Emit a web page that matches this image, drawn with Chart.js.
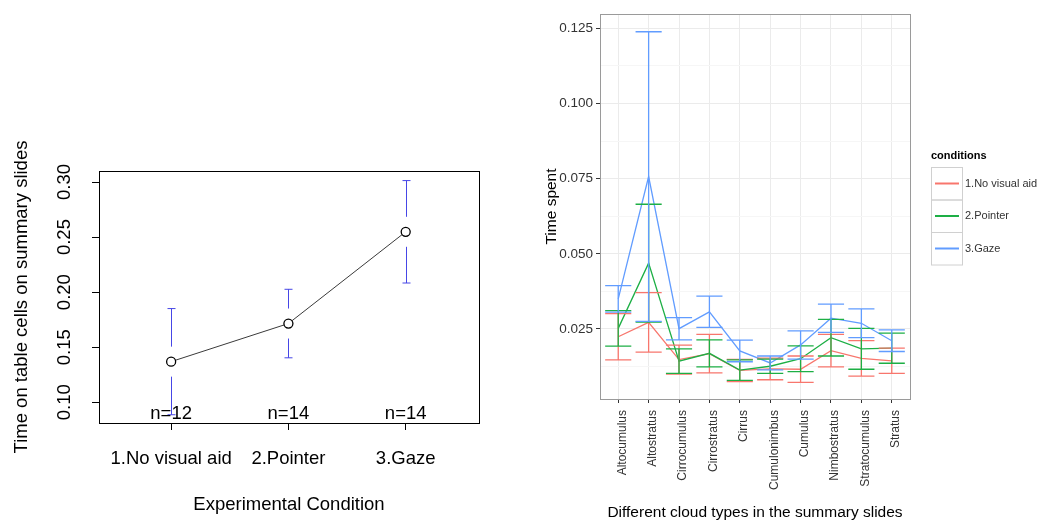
<!DOCTYPE html>
<html>
<head>
<meta charset="utf-8">
<script src="https://cdn.jsdelivr.net/npm/chart.js@4.4.1/dist/chart.umd.min.js"></script>
<style>
  html, body { margin: 0; padding: 0; background: #fff; }
  #wrap { position: relative; width: 1046px; height: 522px; }
  #left { position: absolute; left: 0; top: 0; }
  #right { position: absolute; left: 530px; top: 0; }
</style>
</head>
<body>
<div id="wrap">
  <canvas id="left" width="530" height="522"></canvas>
  <canvas id="right" width="516" height="522"></canvas>
</div>
<script>
// left panel: mean time per condition
const conditions = ['1.No visual aid', '2.Pointer', '3.Gaze'];
const timeMean = [0.1369, 0.1715, 0.2548];
const timeSe = [0.0482, 0.0311, 0.0465];
const nLabels = ['n=12', 'n=14', 'n=14'];
const leftYTicks = [0.10, 0.15, 0.20, 0.25, 0.30];

// right panel: time per cloud type and condition
const cloudTypes = ['Altocumulus', 'Altostratus', 'Cirrocumulus', 'Cirrostratus', 'Cirrus',
  'Cumulonimbus', 'Cumulus', 'Nimbostratus', 'Stratocumulus', 'Stratus'];
const noAidMean = [0.0224, 0.0272, 0.0148, 0.0168, 0.0112, 0.0117, 0.0116, 0.0178, 0.0152, 0.0144];
const noAidSe = [0.0077, 0.0099, 0.0048, 0.0064, 0.0037, 0.0036, 0.0044, 0.0054, 0.0059, 0.0042];
const pointerMean = [0.0252, 0.0469, 0.0143, 0.0169, 0.0113, 0.0126, 0.0151, 0.0221, 0.0184, 0.0186];
const pointerSe = [0.0059, 0.0196, 0.0041, 0.0045, 0.0034, 0.0024, 0.0043, 0.0061, 0.0068, 0.0050];
const gazeMean = [0.0350, 0.0757, 0.0251, 0.0307, 0.0177, 0.0137, 0.0197, 0.0286, 0.0269, 0.0211];
const gazeSe = [0.0044, 0.0482, 0.0037, 0.0052, 0.0036, 0.0023, 0.0047, 0.0047, 0.0048, 0.0036];
const yMajorTicks = [0.025, 0.05, 0.075, 0.1, 0.125];
const yMinorTicks = [0.0125, 0.0375, 0.0625, 0.0875, 0.1125];

const FONT = "'Liberation Sans', Arial, sans-serif";
Chart.defaults.font.family = FONT;

const ggColors = ['#F8766D', '#1DAF45', '#619CFF'];
const seriesMeans = [noAidMean, pointerMean, gazeMean];
const seriesSe = [noAidSe, pointerSe, gazeSe];

// R plotmeans style extras: box, gapped error bars, n= labels
const leftExtras = {
  id: 'leftExtras',
  afterDraw(chart) {
    const { ctx, chartArea: a, scales: { x, y } } = chart;
    ctx.save();
    ctx.strokeStyle = '#000';
    ctx.lineWidth = 1;
    ctx.strokeRect(a.left + 0.5, a.top + 0.5, a.right - a.left, a.bottom - a.top);

    ctx.strokeStyle = '#4646e6';
    timeMean.forEach((m, i) => {
      const px = Math.round(x.getPixelForValue(i + 1)) + 0.5;
      const py = y.getPixelForValue(m);
      const top = y.getPixelForValue(m + timeSe[i]);
      const bot = y.getPixelForValue(m - timeSe[i]);
      ctx.beginPath();
      ctx.moveTo(px, top); ctx.lineTo(px, py - 15);
      ctx.moveTo(px, py + 15); ctx.lineTo(px, bot);
      ctx.moveTo(px - 4, top); ctx.lineTo(px + 4, top);
      ctx.moveTo(px - 4, bot); ctx.lineTo(px + 4, bot);
      ctx.stroke();
    });

    ctx.fillStyle = '#000';
    ctx.font = '18.5px ' + FONT;
    ctx.textAlign = 'center';
    ctx.textBaseline = 'middle';
    nLabels.forEach((t, i) => ctx.fillText(t, x.getPixelForValue(i + 1), a.bottom - 9));
    ctx.restore();
  }
};

new Chart(document.getElementById('left'), {
  type: 'line',
  data: {
    datasets: [{
      data: timeMean.map((v, i) => ({ x: i + 1, y: v })),
      borderColor: '#3a3a3a',
      borderWidth: 1,
      pointRadius: 4.5,
      pointBorderColor: '#000',
      pointBackgroundColor: '#fff',
      pointBorderWidth: 1.3
    }]
  },
  options: {
    responsive: false,
    animation: false,
    layout: { padding: { top: 171, right: 51, left: 0, bottom: 0 } },
    plugins: { legend: { display: false }, tooltip: { enabled: false } },
    scales: {
      x: {
        type: 'linear', min: 0.385, max: 3.625,
        afterBuildTicks: s => { s.ticks = conditions.map((c, i) => ({ value: i + 1 })); },
        afterFit: s => { s.height = 99; },
        ticks: { callback: (v, i) => conditions[i], color: '#000', font: { size: 18.5 }, padding: 18, maxRotation: 0, autoSkip: false },
        grid: { drawOnChartArea: false, tickLength: 7, tickColor: '#000', tickWidth: 1 },
        border: { display: false },
        title: { display: true, text: 'Experimental Condition', color: '#000', font: { size: 18.5 }, padding: { top: 0, bottom: 6 } }
      },
      y: {
        type: 'linear', min: 0.0812, max: 0.31,
        afterBuildTicks: s => { s.ticks = leftYTicks.map(v => ({ value: v })); },
        afterFit: s => { s.width = 99; },
        ticks: { callback: v => v.toFixed(2), color: '#000', font: { size: 18.5 }, minRotation: 90, maxRotation: 90, crossAlign: 'center', padding: 9 },
        grid: { drawOnChartArea: false, tickLength: 7, tickColor: '#000', tickWidth: 1 },
        border: { display: false },
        title: { display: true, text: 'Time on table cells on summary slides', color: '#000', font: { size: 18.5 }, padding: { top: 11, bottom: 0 } }
      }
    }
  },
  plugins: [leftExtras]
});

// ggplot style extras: panel border, error bars, legend
const rightExtras = {
  id: 'rightExtras',
  afterDatasetsDraw(chart) {
    const { ctx, chartArea: a, scales: { x, y } } = chart;
    ctx.save();
    ctx.lineWidth = 1.3;
    seriesMeans.forEach((means, s) => {
      ctx.strokeStyle = ggColors[s];
      means.forEach((m, i) => {
        const px = x.getPixelForValue(i);
        const x0 = x.getPixelForValue(i - 0.43);
        const x1 = x.getPixelForValue(i + 0.43);
        const top = y.getPixelForValue(m + seriesSe[s][i]);
        const bot = y.getPixelForValue(m - seriesSe[s][i]);
        ctx.beginPath();
        ctx.moveTo(px, top); ctx.lineTo(px, bot);
        ctx.moveTo(x0, top); ctx.lineTo(x1, top);
        ctx.moveTo(x0, bot); ctx.lineTo(x1, bot);
        ctx.stroke();
      });
    });
    ctx.strokeStyle = '#9a9a9a';
    ctx.lineWidth = 1;
    ctx.strokeRect(a.left + 0.5, a.top + 0.5, a.right - a.left, a.bottom - a.top);
    ctx.restore();
  },
  afterDraw(chart) {
    const { ctx, chartArea: a } = chart;
    const lx = a.right + 21;
    ctx.save();
    ctx.fillStyle = '#000';
    ctx.font = 'bold 11px ' + FONT;
    ctx.textBaseline = 'middle';
    ctx.fillText('conditions', lx, 155.5);
    ctx.font = '11px ' + FONT;
    conditions.forEach((name, i) => {
      const top = 167 + i * 32.5;
      ctx.strokeStyle = '#d0d0d0';
      ctx.lineWidth = 1;
      ctx.strokeRect(lx + 0.5, top + 0.5, 31, 32.5);
      ctx.strokeStyle = ggColors[i];
      ctx.lineWidth = 2;
      ctx.beginPath();
      ctx.moveTo(lx + 4, top + 16.5); ctx.lineTo(lx + 28, top + 16.5);
      ctx.stroke();
      ctx.fillStyle = '#333';
      ctx.fillText(name, lx + 34, top + 16.5);
    });
    ctx.restore();
  }
};

const isMajor = v => yMajorTicks.includes(v);

new Chart(document.getElementById('right'), {
  type: 'line',
  data: {
    datasets: [2, 1, 0].map(s => ({
      label: conditions[s],
      data: seriesMeans[s].map((v, i) => ({ x: i, y: v })),
      borderColor: ggColors[s],
      borderWidth: 1.3,
      pointRadius: 0,
      tension: 0
    }))
  },
  options: {
    responsive: false,
    animation: false,
    layout: { padding: { top: 14, right: 136, left: 0, bottom: 0 } },
    plugins: { legend: { display: false }, tooltip: { enabled: false } },
    scales: {
      x: {
        type: 'linear', min: -0.6, max: 9.6,
        afterBuildTicks: s => { s.ticks = cloudTypes.map((c, i) => ({ value: i })); },
        afterFit: s => { s.height = 123; },
        ticks: { callback: (v, i) => cloudTypes[i], color: '#333', font: { size: 12 }, padding: 7, labelOffset: 4, minRotation: 90, maxRotation: 90, autoSkip: false },
        grid: { color: '#ebebeb', tickLength: 4, tickColor: '#333', tickWidth: 1 },
        border: { display: false },
        title: { display: true, text: 'Different cloud types in the summary slides', color: '#000', font: { size: 15.5 }, padding: { top: 0, bottom: 0 } }
      },
      y: {
        type: 'linear', min: 0.0017, max: 0.1298,
        afterBuildTicks: s => { s.ticks = [...yMinorTicks, ...yMajorTicks].sort((p, q) => p - q).map(v => ({ value: v })); },
        afterFit: s => { s.width = 70; },
        ticks: { callback: v => isMajor(v) ? v.toFixed(3) : '', color: '#333', font: { size: 13.5 }, padding: 3 },
        grid: {
          color: c => isMajor(c.tick.value) ? '#ebebeb' : '#f6f6f6',
          tickColor: c => isMajor(c.tick.value) ? '#333' : 'rgba(0,0,0,0)',
          tickLength: 4, tickWidth: 1
        },
        border: { display: false },
        title: { display: true, text: 'Time spent', color: '#000', font: { size: 15.5 }, padding: { top: 12, bottom: 0 } }
      }
    }
  },
  plugins: [rightExtras]
});
</script>
</body>
</html>
